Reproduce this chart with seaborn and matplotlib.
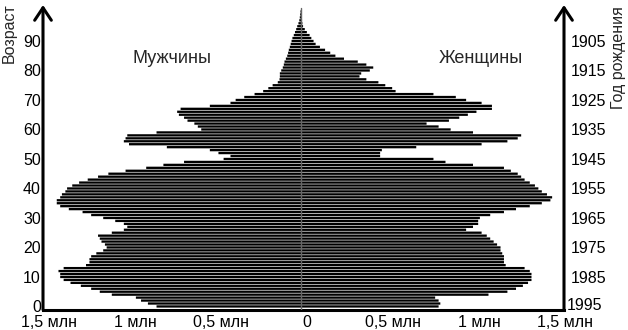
import matplotlib
matplotlib.use("Agg")
import matplotlib.pyplot as plt
from matplotlib import transforms
import numpy as np
import pandas as pd
import seaborn as sns

# Single-year ages 0..100
ages = list(range(101))

# Male population by age, million people
male = [0.84, 0.89, 0.93, 0.96, 1.10, 1.17, 1.22, 1.28, 1.34, 1.38,
        1.40, 1.40, 1.41, 1.38, 1.25, 1.23, 1.23, 1.22, 1.19, 1.15,
        1.13, 1.14, 1.16, 1.17, 1.18, 1.10, 1.03, 1.01, 1.03, 1.08,
        1.15, 1.22, 1.27, 1.35, 1.40, 1.42, 1.42, 1.40, 1.39, 1.37,
        1.36, 1.33, 1.29, 1.24, 1.18, 1.12, 1.02, 0.90, 0.80, 0.68,
        0.45, 0.41, 0.48, 0.53, 0.78, 1.00, 1.03, 1.02, 1.01, 0.84,
        0.58, 0.60, 0.62, 0.66, 0.68, 0.71, 0.72, 0.70, 0.53, 0.41,
        0.38, 0.33, 0.27, 0.22, 0.19, 0.165, 0.135, 0.125, 0.123, 0.123,
        0.115, 0.106, 0.10, 0.096, 0.088, 0.08, 0.075, 0.071, 0.065, 0.06,
        0.055, 0.05, 0.042, 0.035, 0.028, 0.022, 0.015, 0.01, 0.007, 0.005,
        0.003]

# Female population by age, million people
female = [0.80, 0.81, 0.80, 0.78, 1.09, 1.20, 1.25, 1.29, 1.32, 1.34,
          1.34, 1.34, 1.33, 1.30, 1.19, 1.18, 1.18, 1.18, 1.17, 1.16,
          1.16, 1.14, 1.12, 1.10, 1.08, 1.05, 0.96, 1.00, 1.03, 1.03,
          1.04, 1.10, 1.18, 1.25, 1.33, 1.40, 1.45, 1.46, 1.43, 1.40,
          1.38, 1.36, 1.33, 1.30, 1.28, 1.26, 1.22, 1.18, 1.00, 0.84,
          0.77, 0.46, 0.46, 0.47, 0.67, 1.05, 1.20, 1.26, 1.28, 1.00,
          0.87, 0.80, 0.73, 0.86, 0.92, 0.97, 1.02, 1.11, 1.11, 1.05,
          0.96, 0.90, 0.77, 0.55, 0.53, 0.49, 0.45, 0.38, 0.34, 0.35,
          0.40, 0.42, 0.38, 0.33, 0.25, 0.20, 0.17, 0.14, 0.11, 0.085,
          0.073, 0.06, 0.05, 0.034, 0.022, 0.012, 0.008, 0.006, 0.004, 0.003,
          0.002]

age_ticks = [0, 10, 20, 30, 40, 50, 60, 70, 80, 90]
age_labels = [str(a) for a in age_ticks]
year_labels = ["1995", "1985", "1975", "1965", "1955", "1945", "1935", "1925", "1915", "1905"]
x_ticks = [-1.5, -1.0, -0.5, 0.0, 0.5, 1.0, 1.5]
x_labels = ["1,5 млн", "1 млн", "0,5 млн", "0", "0,5 млн", "1 млн", "1,5 млн"]

df = pd.DataFrame({"age": ages,
                   "male": [-v for v in male],
                   "female": female})

sns.set_style("white")
plt.rcParams["font.family"] = ["Liberation Sans", "DejaVu Sans"]

W, H = 628, 330
fig = plt.figure(figsize=(W / 100, H / 100), dpi=100)
ax = fig.add_axes([43 / W, (H - 309.7) / H, (564 - 43) / W, (309.7 - 5) / H])

bar_kw = dict(orient="y", native_scale=True, color="black", saturation=1,
              width=0.78, errorbar=None, linewidth=0, ax=ax)
sns.barplot(data=df, x="male", y="age", **bar_kw)
sns.barplot(data=df, x="female", y="age", **bar_kw)
for p in ax.patches:
    p.set_snap(False)

ax.set_xlim(-1.5, 1.529)
ax.set_ylim(-1.1, 102.2)
ax.set_xlabel("")
ax.set_ylabel("")

for s in ["left", "right", "top"]:
    ax.spines[s].set_visible(False)
ax.spines["bottom"].set_linewidth(2.2)
ax.spines["bottom"].set_color("black")

ax.set_xticks(x_ticks)
ax.set_xticklabels(x_labels)
ax.tick_params(axis="x", length=0, pad=3.5, labelsize=11.5, colors="black")
shift = transforms.ScaledTranslation(6 / 100, 0, fig.dpi_scale_trans)
for lbl in ax.get_xticklabels():
    lbl.set_transform(lbl.get_transform() + shift)

ax.set_yticks(age_ticks)
ax.set_yticklabels(age_labels)
ax.tick_params(axis="y", length=0, pad=1.5, labelsize=11.5, colors="black")

# Birth-year scale on the right
ax2 = ax.twinx()
ax2.set_ylim(ax.get_ylim())
ax2.set_yticks(age_ticks)
ax2.set_yticklabels(year_labels)
ax2.tick_params(axis="y", length=0, pad=4.5, labelsize=11.5, colors="black")
for s in ax2.spines.values():
    s.set_visible(False)
first = ax2.get_yticklabels()[0]
first.set_transform(first.get_transform() +
                    transforms.ScaledTranslation(-4 / 100, 2.5 / 100, fig.dpi_scale_trans))

# Centre divider
ax.plot([0, 0], [-1.1, 101.2], color="#666666", lw=1.0, zorder=5)

# Vertical axes drawn as arrows
arrow = dict(arrowstyle="->,head_length=0.45,head_width=0.3", lw=2.2,
             color="black", shrinkA=0, shrinkB=0, mutation_scale=20)
for xpos in (0, 1):
    ax.annotate("", xy=(xpos, 1), xytext=(xpos, 0), xycoords="axes fraction",
                textcoords="axes fraction", arrowprops=arrow, annotation_clip=False)

fig.text(172 / W, 1 - 63 / H, "Мужчины", ha="center", va="baseline", fontsize=13)
fig.text(480.5 / W, 1 - 63 / H, "Женщины", ha="center", va="baseline", fontsize=13)
fig.text(9.5 / W, 1 - 33 / H, "Возраст", rotation=90, ha="center", va="center",
         fontsize=11.5)
fig.text(619 / W, 1 - 58 / H, "Год рождения", rotation=90, ha="center", va="center",
         fontsize=11.5)

fig.savefig("out.png", dpi=100)
